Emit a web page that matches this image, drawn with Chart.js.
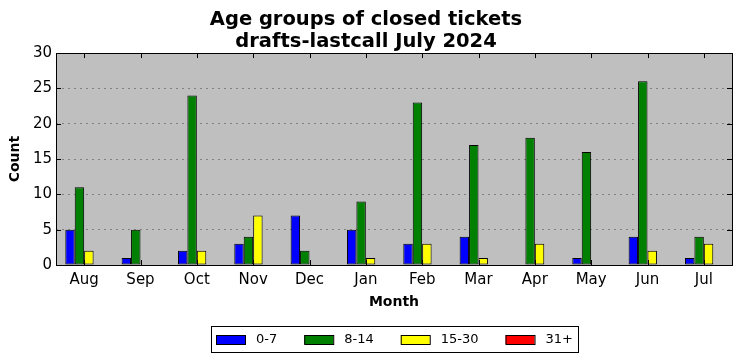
<!DOCTYPE html>
<html>
<head>
<meta charset="utf-8">
<script src="https://cdn.jsdelivr.net/npm/chart.js@4.4.1/dist/chart.umd.min.js"></script>
<style>
html, body { margin: 0; padding: 0; background: #fff; }
</style>
</head>
<body>
<canvas id="ageChart" width="742" height="361"></canvas>
<script>
// <![CDATA[

let months = ['Aug', 'Sep', 'Oct', 'Nov', 'Dec', 'Jan', 'Feb', 'Mar', 'Apr', 'May', 'Jun', 'Jul'];
let groups = ['0-7', '8-14', '15-30', '31+'];
let days0to7 = [5, 1, 2, 3, 7, 5, 3, 4, 0, 1, 4, 1];
let days8to14 = [11, 5, 24, 4, 2, 9, 23, 17, 18, 16, 26, 4];
let days15to30 = [2, 0, 2, 7, 0, 1, 3, 1, 3, 0, 2, 3];
let days31plus = [0, 0, 0, 0, 0, 0, 0, 0, 0, 0, 0, 0];
let groupColors = ['#0000ff', '#008000', '#ffff00', '#ff0000'];
let yMax = 30;
let yStep = 5;

Chart.defaults.font.family = 'DejaVu Sans';
Chart.defaults.color = '#000';

// grey plot background, black frame, inward ticks and a boxed legend
const frame = {
    id: 'frame',
    beforeDraw(chart) {
        const a = chart.chartArea;
        const ctx = chart.ctx;
        ctx.save();
        ctx.fillStyle = '#bfbfbf';
        ctx.fillRect(a.left, a.top, a.right - a.left, a.bottom - a.top);
        ctx.restore();
    },
    afterDraw(chart) {
        const a = chart.chartArea;
        const ctx = chart.ctx;
        const x = chart.scales.x;
        const y = chart.scales.y;
        ctx.save();
        ctx.strokeStyle = '#000';
        ctx.lineWidth = 1;
        ctx.beginPath();
        x.ticks.forEach((t, i) => {
            const px = Math.round(x.getPixelForTick(i)) + 0.5;
            ctx.moveTo(px, a.bottom); ctx.lineTo(px, a.bottom - 5);
            ctx.moveTo(px, a.top); ctx.lineTo(px, a.top + 5);
        });
        y.ticks.forEach((t) => {
            const py = Math.round(y.getPixelForValue(t.value)) + 0.5;
            ctx.moveTo(a.left, py); ctx.lineTo(a.left + 5, py);
            ctx.moveTo(a.right, py); ctx.lineTo(a.right - 5, py);
        });
        ctx.stroke();
        ctx.strokeRect(Math.round(a.left) + 0.5, Math.round(a.top) + 0.5,
            Math.round(a.right - a.left), Math.round(a.bottom - a.top));

        // legend
        const sets = chart.data.datasets;
        ctx.font = '13px "DejaVu Sans"';
        ctx.textBaseline = 'middle';
        const swW = 29, swH = 9, gap = 11, spacing = 27, pad = 5;
        let total = pad * 2;
        sets.forEach((d, i) => {
            total += swW + gap + ctx.measureText(d.label).width;
            if (i < sets.length - 1) total += spacing;
        });
        const boxL = Math.round((a.left + a.right) / 2 - total / 2);
        const boxT = 326, boxH = 26;
        ctx.strokeRect(boxL + 0.5, boxT + 0.5, Math.round(total), boxH);
        let cx = boxL + pad;
        const midY = boxT + boxH / 2 + 0.5;
        sets.forEach((d) => {
            ctx.fillStyle = d.backgroundColor;
            ctx.fillRect(cx, midY - swH / 2, swW, swH);
            ctx.strokeRect(cx + 0.5, Math.round(midY - swH / 2) + 0.5, swW, swH);
            ctx.fillStyle = '#000';
            ctx.fillText(d.label, cx + swW + gap, midY);
            cx += swW + gap + ctx.measureText(d.label).width + spacing;
        });
        ctx.restore();
    }
};

new Chart(document.getElementById('ageChart'), {
    type: 'bar',
    data: {
        labels: months,
        datasets: [days0to7, days8to14, days15to30, days31plus].map((d, i) => ({
            label: groups[i],
            data: d,
            backgroundColor: groupColors[i],
            borderColor: '#000',
            borderWidth: 1,
            borderSkipped: false,
            categoryPercentage: 0.67,
            barPercentage: 1.0
        }))
    },
    options: {
        responsive: false,
        animation: false,
        layout: { padding: { left: 0, right: 10, top: 0, bottom: 43 } },
        plugins: {
            title: {
                display: true,
                text: ['Age groups of closed tickets', 'drafts-lastcall July 2024'],
                font: { size: 19.5, weight: 'bold', lineHeight: 1.13 },
                padding: { top: 9, bottom: 0 },
                color: '#000'
            },
            legend: { display: false },
            tooltip: { enabled: false }
        },
        scales: {
            x: {
                grid: { display: false, drawTicks: false },
                border: { display: false },
                ticks: { font: { size: 15 }, padding: 6, color: '#000' },
                title: { display: true, text: 'Month', font: { size: 14, weight: 'bold' }, padding: { top: 4, bottom: 7 } },
                afterFit(scale) { scale.height = 53; }
            },
            y: {
                min: 0,
                max: yMax,
                grid: {
                    drawTicks: false,
                    color: (c) => (c.tick.value === 0 || c.tick.value === yMax) ? 'rgba(0,0,0,0)' : '#808080',
                    lineWidth: 1
                },
                border: { display: false, dash: [2, 4] },
                ticks: { stepSize: yStep, font: { size: 15 }, padding: 4, color: '#000' },
                title: { display: true, text: 'Count', font: { size: 14, weight: 'bold' }, padding: { top: 7, bottom: 4 } },
                afterFit(scale) { scale.width = 56; }
            }
        }
    },
    plugins: [frame]
});

// ]]>
</script>
</body>
</html>
